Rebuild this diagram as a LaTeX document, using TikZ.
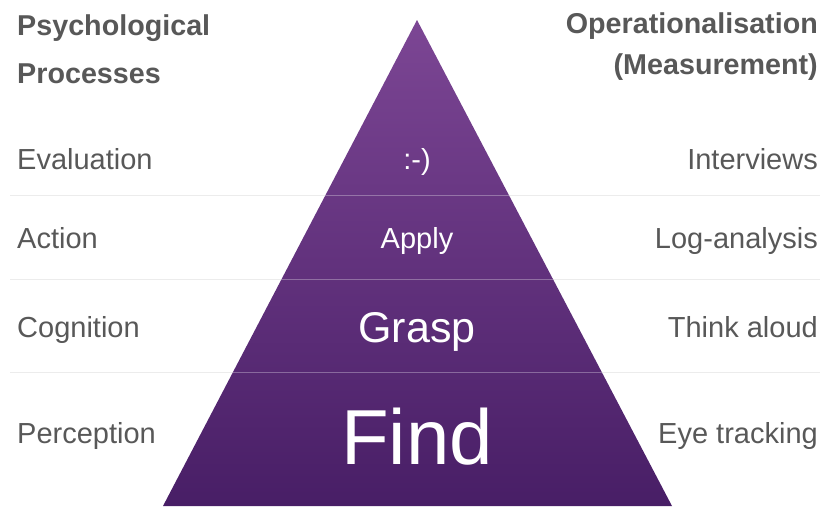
\documentclass[tikz,border=0pt]{standalone}
\usepackage{fontspec}
\setmainfont{Liberation Sans}
\usetikzlibrary{positioning}
\definecolor{txt}{RGB}{88,88,88}
\definecolor{ptop}{RGB}{124,70,148}
\definecolor{pbot}{RGB}{72,30,102}
\definecolor{rulegrey}{RGB}{236,236,236}

\begin{document}
\begin{tikzpicture}[x=1pt,y=-1pt,inner sep=0pt,
  lbl/.style={text=txt,font=\fontsize{29}{33}\selectfont,anchor=base west},
  rlbl/.style={lbl,anchor=base east},
  head/.style={lbl,font=\fontsize{28.7}{33}\selectfont\bfseries},
  rhead/.style={head,anchor=base east},
  tier/.style={text=white,anchor=base}]
  \useasboundingbox (0,0) rectangle (821,506);
  \foreach \y in {195,279,372}
    \draw[rulegrey,line width=1pt] (10,\y) -- (820,\y);
  \coordinate (apex) at (417,20);
  \coordinate (bl) at (163,506);
  \coordinate (br) at (672,506);
  \shade[top color=ptop,bottom color=pbot] (apex) -- (br) -- (bl) -- cycle;
  \begin{scope}
    \clip (apex) -- (br) -- (bl) -- cycle;
    \foreach \y in {195,279,372}
      \draw[white,opacity=.3,line width=1pt] (150,\y) -- (690,\y);
  \end{scope}
  \node[head] (psy) at (17,35) {Psychological};
  \node[head] (proc) at (17,83) {Processes};
  \node[rhead] (oper) at (818,33) {Operationalisation};
  \node[rhead] (meas) at (818,74) {(Measurement)};
  \node[lbl] (eval) at (17,169) {Evaluation};
  \node[lbl] (act) at (17,248) {Action};
  \node[lbl] (cogn) at (17,337) {Cognition};
  \node[lbl] (perc) at (17,443) {Perception};
  \node[rlbl] (intv) at (818,169) {Interviews};
  \node[rlbl] (log) at (818,248) {Log-analysis};
  \node[rlbl] (think) at (818,337) {Think aloud};
  \node[rlbl] (eye) at (818,443) {Eye tracking};
  \node[tier,font=\fontsize{29}{33}\selectfont] (smile) at (417,169) {:-)};
  \node[tier,font=\fontsize{29}{33}\selectfont] (apply) at (417,248) {Apply};
  \node[tier,font=\fontsize{43}{48}\selectfont] (grasp) at (417,342) {Grasp};
  \node[tier,font=\fontsize{78}{84}\selectfont] (find) at (417,464) {Find};
\end{tikzpicture}
\end{document}
